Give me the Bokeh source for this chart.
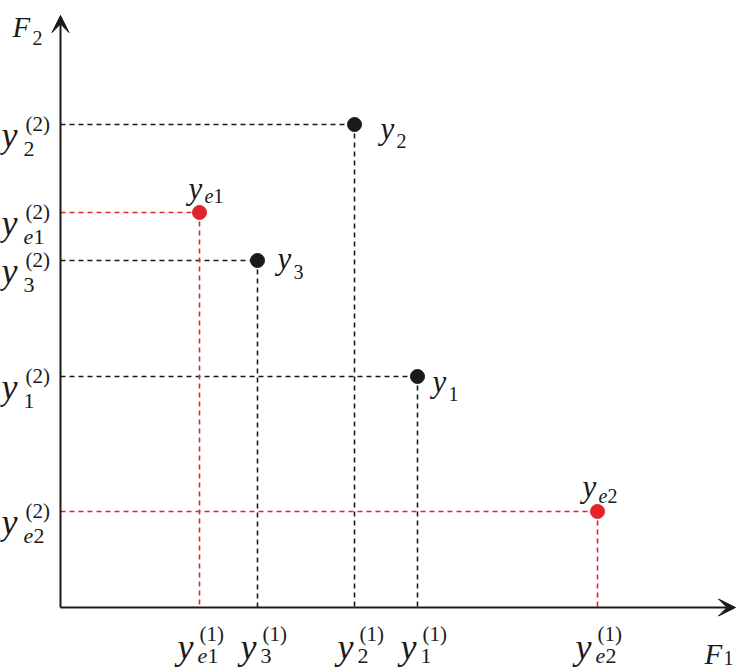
import numpy as np
from bokeh.plotting import figure
from bokeh.models import Range1d, Arrow, VeeHead, ColumnDataSource
from bokeh.core.properties import value
from bokeh.embed import file_html
from bokeh.resources import INLINE

# ---------------- data ----------------
names = ["y1", "y2", "y3", "ye1", "ye2"]
sub_letter = ["", "", "", "e", "e"]
sub_digit = ["1", "2", "3", "1", "2"]
f1 = [357, 294, 197, 139, 537]
f2 = [231, 483, 347, 395, 96]
group = ["solution", "solution", "solution", "extreme", "extreme"]
axis_names = ["F", "F"]
axis_digits = ["1", "2"]

# ---------------- style ----------------
INK = "#1a1a1a"
RED = "#e3232b"
FONT = value("Liberation Serif")
colors = [RED if g == "extreme" else INK for g in group]
# label placement of point names (pixels relative to point)
label_dx = [15, 26, 20, -11, -15]
label_dy = [-5, -4, 2, 24, 25]
sub_dy = [-17, -16, -11, 17, 16]

f1a = np.array(f1, dtype=float)
f2a = np.array(f2, dtype=float)
n = len(f1a)
has_e = np.array([len(s) > 0 for s in sub_letter])

p = figure(width=743, height=668, x_range=Range1d(-60, 683), y_range=Range1d(-61, 607),
           output_backend="svg", toolbar_location=None, min_border=0,
           x_axis_type=None, y_axis_type=None)
p.grid.visible = False
p.outline_line_color = None
p.background_fill_color = "white"
p.border_fill_color = "white"

# dashed guide lines
src = ColumnDataSource(dict(x=f1a, y=f2a, zero=np.zeros(n), color=colors))
p.segment(x0="zero", y0="y", x1="x", y1="y", source=src, line_color="color",
          line_width=1.6, line_dash="5 4")
p.segment(x0="x", y0="y", x1="x", y1="zero", source=src, line_color="color",
          line_width=1.6, line_dash="5 4")

# axes with arrows
p.add_layout(Arrow(x_start=0, y_start=0, x_end=0, y_end=592, line_width=2, line_color=INK,
                   end=VeeHead(size=17, fill_color=INK, line_color=INK, line_width=1)))
p.add_layout(Arrow(x_start=0, y_start=0, x_end=675, y_end=0, line_width=2, line_color=INK,
                   end=VeeHead(size=17, fill_color=INK, line_color=INK, line_width=1)))

# points
p.scatter(x="x", y="y", source=src, size=14, fill_color="color", line_color="color")


def add_text(xs, ys, texts, size, italic):
    p.text(x=list(xs), y=list(ys), text=list(texts), text_font=FONT,
           text_font_size=f"{size}px", text_font_style="italic" if italic else "normal",
           text_baseline="alphabetic", text_align="left", text_color=INK)


def sub_runs(x0, base, size, e_w):
    # letter part italic, digit part upright
    xs_e = [x for x, e in zip(x0, has_e) if e]
    ys_e = [b for b, e in zip(base, has_e) if e]
    add_text(xs_e, ys_e, ["e"] * len(xs_e), size, True)
    xd = x0 + np.where(has_e, e_w, 0)
    add_text(xd, base, sub_digit, size, False)


# x-axis tick labels
ylx = f1a - np.where(has_e, 22, 17)
add_text(ylx, np.full(n, -39.0), ["y"] * n, 36, True)
add_text(ylx + 22, np.full(n, -26.0), ["(1)"] * n, 21, False)
sub_runs(ylx + 20, np.full(n, -48.0), 22, 10)

# y-axis tick labels
yx = np.full(n, -59.0)
add_text(yx, f2a - 10, ["y"] * n, 36, True)
add_text(yx + 24, f2a + 1, ["(2)"] * n, 21, False)
sub_runs(yx + 22, f2a - 24, 22, 10)

# point labels
lx = f1a + np.array(label_dx)
add_text(lx, f2a + np.array(label_dy), ["y"] * n, 31, True)
sub_runs(lx + 16, f2a + np.array(sub_dy), 20, 9)

# axis titles
add_text([-48, 644], [581, -46], axis_names[::-1], 29, True)
add_text([-28, 663], [570, -50], axis_digits[::-1], 20, False)

open("out.html", "w").write(file_html(p, INLINE))
